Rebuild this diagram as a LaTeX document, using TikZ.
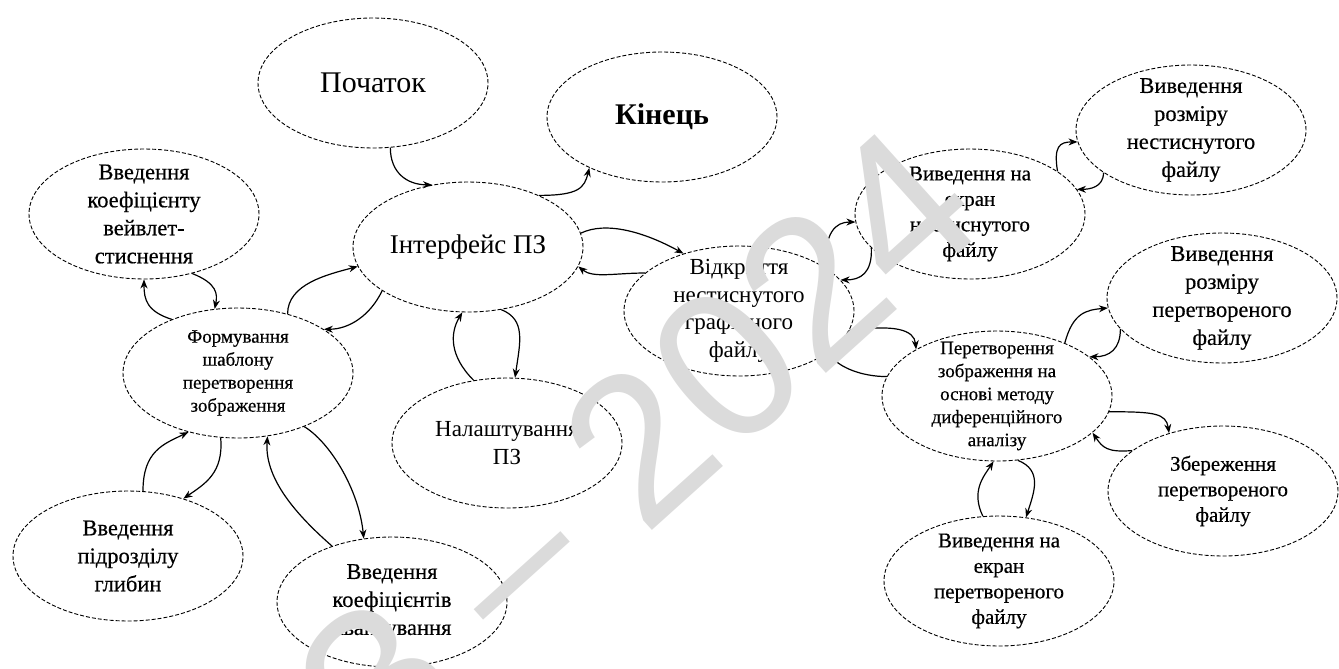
\documentclass[tikz,border=0pt]{standalone}
\usepackage{fontspec}
\setmainfont{Liberation Serif}
\newfontfamily\dserif{Liberation Serif}
\newfontfamily\dserifb{Liberation Serif}[FakeBold=0.4]
\newfontfamily\wmfont{Liberation Sans}
\usetikzlibrary{shapes.geometric,arrows.meta}
\begin{document}
\begin{tikzpicture}[x=1pt,y=-1pt,
  ell/.style={draw, ellipse, dash pattern=on 4pt off 2pt, line width=0.9pt,
    minimum width=230pt, minimum height=130pt, inner sep=0pt},
  txt/.style={align=center, inner sep=0pt},
  fa/.style={font=\dserif\fontsize{30}{34}\selectfont},
  fab/.style={font=\dserif\bfseries\fontsize{30}{34}\selectfont},
  fi/.style={font=\dserif\fontsize{27}{30}\selectfont},
  fb/.style={font=\dserifb\fontsize{22.5}{28}\selectfont},
  fh/.style={font=\dserif\fontsize{23}{27.5}\selectfont},
  fc/.style={font=\dserifb\fontsize{19}{23}\selectfont},
  fd/.style={font=\dserifb\fontsize{21}{25.5}\selectfont},
  arr/.style={line width=1.2pt, -{Stealth[length=9pt,width=7pt]}},
  wm/.style={text=black!14, inner sep=0pt, font=\wmfont\fontsize{210}{220}\selectfont}
]
\useasboundingbox (0,0) rectangle (1339,669);
\node[ell] (A) at (373,83) {};
\node[ell] (B) at (662,117) {};
\node[ell] (C) at (468,247) {};
\node[ell] (D) at (144,214) {};
\node[ell] (E) at (238,373) {};
\node[ell] (F) at (128,556) {};
\node[ell] (G) at (392,602) {};
\node[ell] (H) at (507,443) {};
\node[ell] (I) at (739,311) {};
\node[ell] (J) at (970,214) {};
\node[ell] (K) at (1191,130) {};
\node[ell] (L) at (1222,298) {};
\node[ell] (M) at (997,396) {};
\node[ell] (N) at (1223,491) {};
\node[ell] (O) at (999,581) {};

\node[txt,fa] (tA) at (A) {Початок};
\node[txt,fab] (tB) at (B) {Кінець};
\node[txt,fi] (tC) at (C) {Інтерфейс ПЗ};
\node[txt,fb] (tD) at (D) {Введення\\коефіцієнту\\вейвлет-\\стиснення};
\node[txt,fc] (tE) at (E) {Формування\\шаблону\\перетворення\\зображення};
\node[txt,fb] (tF) at (F) {Введення\\підрозділу\\глибин};
\node[txt,fb] (tG) at (G) {Введення\\коефіцієнтів\\квантування};
\node[txt,fh] (tH) at (H) {Налаштування\\ПЗ};
\node[txt,fh] (tI) at (I) {Відкриття\\нестиснутого\\графічного\\файлу};
\node[txt,fd] (tJ) at (J) {Виведення на\\екран\\нестиснутого\\файлу};
\node[txt,fb] (tK) at (K) {Виведення\\розміру\\нестиснутого\\файлу};
\node[txt,fb] (tL) at (L) {Виведення\\розміру\\перетвореного\\файлу};
\node[txt,fc] (tM) at (M) {Перетворення\\зображення на\\основі методу\\диференційного\\аналізу};
\node[txt,fd] (tN) at (N) {Збереження\\перетвореного\\файлу};
\node[txt,fd] (tO) at (O) {Виведення на\\екран\\перетвореного\\файлу};

\draw[arr] (A.-75) .. controls +(0,25) and +(-25,0) .. (C.120);
\draw[arr] (C.36) .. controls +(40,0) and +(-5,20) .. (B.215);
\draw[arr] (C.7) .. controls +(25,-12) and +(-40,-22) .. (I.134);
\draw[arr] (I.158) .. controls +(-30,0) and +(15,12) .. (C.-10);
\draw[arr] (C.207) .. controls +(-12,25) and +(25,0) .. (E.27);
\draw[arr] (E.50) .. controls +(0,-30) and +(-30,8) .. (C.190);
\draw[arr] (D.-51) .. controls +(25,10) and +(3,-15) .. (E.110);
\draw[arr] (E.141) .. controls +(-25,-8) and +(0,20) .. (D.-90);
\draw[arr] (F.77) .. controls +(0,-40) and +(-25,12) .. (E.230);
\draw[arr] (E.-105) .. controls +(3,35) and +(22,-15) .. (F.46);
\draw[arr] (E.-39) .. controls +(25,15) and +(-5,-50) .. (G.114);
\draw[arr] (G.137) .. controls +(-40,-35) and +(-3,40) .. (E.-65);
\draw[arr] (H.118) .. controls +(-25,-25) and +(-12,20) .. (C.-95);
\draw[arr] (C.-62) .. controls +(25,10) and +(5,-35) .. (H.83);
\draw[arr] (I.27) .. controls +(0,-35) and +(-20,0) .. (J.184);
\draw[arr] (J.199) .. controls +(1,25) and +(20,0) .. (I.17);
\draw[arr] (J.26) .. controls +(-4,-25) and +(-18,0) .. (K.186);
\draw[arr] (K.206) .. controls +(0,15) and +(12,0) .. (J.13);
\draw[arr] (I.-10) .. controls +(45,-6) and +(-2,-20) .. (M.150);
\draw[arr] (M.170) .. controls +(-25,0) and +(12,15) .. (I.-25);
\draw[arr] (M.38) .. controls +(8,-30) and +(-22,2) .. (L.185);
\draw[arr] (L.197) .. controls +(0,20) and +(20,0) .. (M.23);
\draw[arr] (M.-8) .. controls +(45,0) and +(-3,-20) .. (N.133);
\draw[arr] (N.156) .. controls +(-25,2) and +(10,15) .. (M.-21);
\draw[arr] (O.104) .. controls +(-12,-25) and +(-10,15) .. (M.-93);
\draw[arr] (M.-72) .. controls +(25,10) and +(8,-25) .. (O.67);

\node[wm, rotate=42] (wm) at (580,498) {ПЗ – 2024};
\end{tikzpicture}
\end{document}
